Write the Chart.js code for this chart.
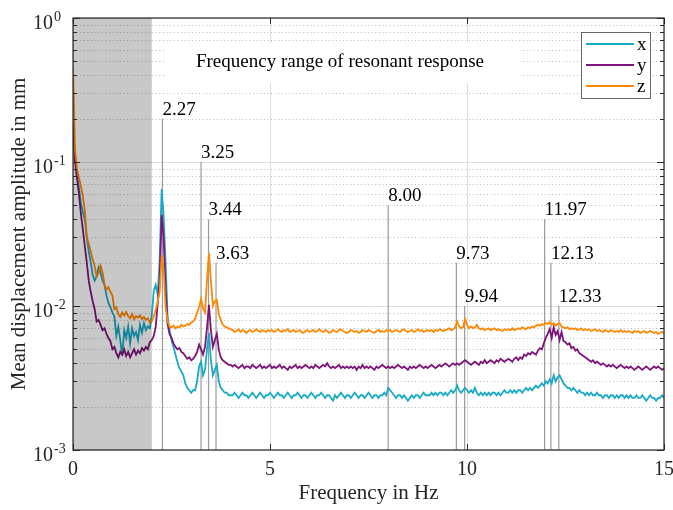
<!DOCTYPE html>
<html>
<head>
<meta charset="utf-8">
<script src="https://cdn.jsdelivr.net/npm/chart.js@4.4.0/dist/chart.umd.min.js"></script>
<style>
  html, body { margin: 0; padding: 0; background: #fff; }
  canvas { display: block; }
</style>
</head>
<body>
<canvas id="chart" width="673" height="510"></canvas>
<script>
// spectra are sampled every 0.05 Hz from 0 to 15 Hz (301 bins)
const freqs = Array.from({ length: 301 }, (_, i) => +(i * 0.05).toFixed(2));

// mean displacement amplitude in mm, one value per bin
const ampX = [
  0.175,0.105,0.078,0.066,0.052,0.045,0.040,0.030,0.024,0.020,0.0165,0.0150,0.0160,0.0185,0.0170,0.0150,0.0140,0.0118,0.0105,0.0098,
  0.0090,0.0085,0.0062,0.0072,0.0058,0.0045,0.0068,0.0060,0.0072,0.0055,0.0070,0.0062,0.0066,0.0058,0.0074,0.0065,0.0076,0.0068,0.0072,0.0070,
  0.0085,0.0128,0.0140,0.0120,0.0210,0.0650,0.0420,0.0200,0.0085,0.0068,0.0058,0.0052,0.0046,0.0041,0.0037,0.0035,0.0033,0.0029,0.0027,0.0026,
  0.0025,0.0026,0.0026,0.0030,0.0038,0.0041,0.0033,0.0036,0.0050,0.0065,0.0042,0.0033,0.0036,0.0039,0.0030,0.0027,0.0026,0.0025,0.0025,0.0024,
  0.0024,
  0.0024,0.0025,0.0024,0.0023,0.0024,0.0025,0.0024,0.0024,0.0023,0.0024,0.0025,0.0024,0.0023,0.0024,0.0025,0.0024,0.0023,0.0024,0.0024,0.0025,
  0.0024,0.0023,0.0024,0.0025,0.0024,0.0024,0.0023,0.0024,0.0025,0.0024,0.0023,0.0024,0.0024,0.0025,0.0024,0.0023,0.0024,0.0024,0.0023,0.0024,
  0.0025,0.0024,0.0023,0.0024,0.0024,0.0025,0.0024,0.0023,0.0024,0.0024,0.0023,0.0022,0.0024,0.0023,0.0024,0.0025,0.0024,0.0023,0.0024,0.0024,
  0.0023,0.0024,0.0025,0.0024,0.0023,0.0024,0.0024,0.0023,0.0024,0.0025,0.0024,0.0023,0.0024,0.0024,0.0023,0.0024,0.0024,0.0025,0.0024,0.0027,
  0.0026,0.0025,0.0024,0.0023,0.0024,0.0024,0.0023,0.0024,0.0023,0.0022,0.0023,0.0024,0.0023,0.0024,0.0024,0.0023,0.0024,0.0025,0.0024,0.0024,
  0.0024,0.0025,0.0024,0.0025,0.0024,0.0025,0.0025,0.0024,0.0025,0.0024,0.0025,0.0026,0.0025,0.0026,0.0028,0.0026,0.0025,0.0026,0.0027,0.0026,
  0.0025,0.0026,0.0025,0.0027,0.0025,0.0024,0.0025,0.0024,0.0025,0.0024,0.0025,0.0024,0.0025,0.0025,0.0024,0.0025,0.0024,0.0025,0.0026,0.0025,
  0.0025,0.0026,0.0025,0.0026,0.0025,0.0026,0.0026,0.0025,0.0026,0.0027,0.0026,0.0027,0.0026,0.0027,0.0028,0.0027,0.0028,0.0029,0.0028,0.0030,
  0.0029,0.0031,0.0029,0.0033,0.0030,0.0032,0.0033,0.0031,0.0029,0.0028,0.0027,0.0027,0.0026,0.0027,0.0026,0.0025,0.0026,0.0025,0.0025,0.0024,
  0.0025,0.0024,0.0025,0.0024,0.0024,0.0025,0.0024,0.0024,0.0023,0.0024,0.0024,0.0023,0.0024,0.0024,0.0023,0.0024,0.0023,0.0024,0.0024,0.0023,
  0.0024,0.0023,0.0024,0.0023,0.0023,0.0024,0.0023,0.0023,0.0024,0.0023,0.0022,0.0023,0.0024,0.0023,0.0023,0.0022,0.0023,0.0023,0.0024,0.0023
];
const ampY = [
  0.19,0.10,0.079,0.060,0.044,0.034,0.026,0.020,0.015,0.0125,0.0108,0.0095,0.0078,0.0080,0.0074,0.0068,0.0070,0.0064,0.0060,0.0057,
  0.0050,0.0052,0.0047,0.0044,0.0048,0.0046,0.0050,0.0045,0.0048,0.0044,0.0047,0.0050,0.0046,0.0049,0.0047,0.0051,0.0049,0.0052,0.0050,0.0056,
  0.0058,0.0062,0.0072,0.0105,0.0150,0.0430,0.0300,0.0130,0.0075,0.0064,0.0060,0.0055,0.0052,0.0050,0.0051,0.0048,0.0047,0.0045,0.0043,0.0044,
  0.0042,0.0043,0.0045,0.0048,0.0054,0.0050,0.0046,0.0052,0.0070,0.0102,0.0068,0.0052,0.0058,0.0064,0.0050,0.0044,0.0042,0.0041,0.0040,0.0039,
  0.0039,
  0.0038,0.0039,0.0038,0.0037,0.0038,0.0039,0.0037,0.0038,0.0038,0.0037,0.0039,0.0038,0.0037,0.0038,0.0039,0.0037,0.0038,0.0037,0.0038,0.0039,
  0.0037,0.0038,0.0037,0.0038,0.0039,0.0037,0.0038,0.0037,0.0036,0.0038,0.0037,0.0038,0.0039,0.0037,0.0038,0.0037,0.0038,0.0039,0.0038,0.0037,
  0.0038,0.0037,0.0039,0.0038,0.0037,0.0038,0.0039,0.0038,0.0040,0.0038,0.0037,0.0038,0.0037,0.0038,0.0039,0.0037,0.0038,0.0037,0.0038,0.0037,
  0.0038,0.0037,0.0038,0.0036,0.0038,0.0037,0.0039,0.0037,0.0038,0.0037,0.0038,0.0037,0.0036,0.0038,0.0037,0.0038,0.0039,0.0038,0.0037,0.0038,
  0.0037,0.0038,0.0037,0.0038,0.0039,0.0038,0.0037,0.0038,0.0037,0.0036,0.0038,0.0037,0.0038,0.0037,0.0038,0.0039,0.0038,0.0037,0.0038,0.0037,
  0.0038,0.0039,0.0038,0.0037,0.0038,0.0039,0.0038,0.0039,0.0040,0.0039,0.0038,0.0039,0.0040,0.0039,0.0040,0.0039,0.0040,0.0041,0.0042,0.0041,
  0.0040,0.0039,0.0040,0.0041,0.0040,0.0039,0.0041,0.0040,0.0042,0.0040,0.0041,0.0042,0.0041,0.0040,0.0042,0.0041,0.0043,0.0042,0.0041,0.0042,
  0.0043,0.0042,0.0041,0.0043,0.0044,0.0042,0.0044,0.0043,0.0046,0.0045,0.0047,0.0046,0.0048,0.0047,0.0046,0.0049,0.0051,0.0050,0.0055,0.0060,
  0.0064,0.0069,0.0060,0.0071,0.0063,0.0067,0.0058,0.0066,0.0057,0.0056,0.0054,0.0055,0.0051,0.0052,0.0049,0.0050,0.0047,0.0046,0.0045,0.0044,
  0.0043,0.0042,0.0041,0.0042,0.0040,0.0041,0.0040,0.0039,0.0040,0.0039,0.0038,0.0039,0.0038,0.0039,0.0038,0.0037,0.0038,0.0039,0.0038,0.0037,
  0.0038,0.0037,0.0038,0.0037,0.0036,0.0037,0.0038,0.0037,0.0036,0.0037,0.0038,0.0037,0.0036,0.0037,0.0038,0.0037,0.0038,0.0037,0.0036,0.0037
];
const ampZ = [
  0.45,0.12,0.090,0.078,0.068,0.058,0.046,0.030,0.027,0.024,0.021,0.019,0.016,0.017,0.019,0.017,0.014,0.013,0.0135,0.0125,
  0.0118,0.0095,0.0098,0.0088,0.0084,0.0090,0.0086,0.0091,0.0085,0.0082,0.0088,0.0081,0.0085,0.0083,0.0086,0.0081,0.0084,0.0080,0.0082,0.0077,
  0.0078,0.0085,0.0094,0.0108,0.0125,0.0226,0.0180,0.0098,0.0079,0.0072,0.0071,0.0073,0.0070,0.0072,0.0071,0.0074,0.0072,0.0073,0.0075,0.0074,
  0.0077,0.0078,0.0082,0.0090,0.0098,0.0112,0.0096,0.0090,0.0150,0.0233,0.0150,0.0100,0.0108,0.0110,0.0088,0.0080,0.0074,0.0072,0.0071,0.0070,
  0.0069,
  0.0068,0.0066,0.0067,0.0069,0.0066,0.0068,0.0067,0.0065,0.0067,0.0068,0.0066,0.0067,0.0069,0.0067,0.0066,0.0068,0.0067,0.0066,0.0068,0.0067,
  0.0068,0.0066,0.0067,0.0069,0.0067,0.0066,0.0068,0.0067,0.0069,0.0066,0.0067,0.0068,0.0066,0.0067,0.0068,0.0066,0.0065,0.0067,0.0068,0.0066,
  0.0067,0.0068,0.0066,0.0067,0.0069,0.0067,0.0066,0.0068,0.0067,0.0065,0.0066,0.0068,0.0067,0.0066,0.0068,0.0069,0.0067,0.0066,0.0065,0.0066,
  0.0068,0.0067,0.0066,0.0067,0.0065,0.0066,0.0068,0.0067,0.0066,0.0068,0.0067,0.0066,0.0065,0.0067,0.0068,0.0066,0.0067,0.0066,0.0068,0.0067,
  0.0068,0.0066,0.0067,0.0068,0.0067,0.0066,0.0068,0.0069,0.0067,0.0066,0.0067,0.0068,0.0066,0.0067,0.0069,0.0067,0.0068,0.0066,0.0067,0.0068,
  0.0067,0.0068,0.0066,0.0068,0.0067,0.0069,0.0068,0.0067,0.0068,0.0069,0.0070,0.0068,0.0069,0.0071,0.0078,0.0072,0.0070,0.0071,0.0081,0.0074,
  0.0070,0.0072,0.0070,0.0071,0.0074,0.0070,0.0069,0.0070,0.0068,0.0069,0.0070,0.0068,0.0069,0.0070,0.0068,0.0069,0.0068,0.0067,0.0069,0.0068,
  0.0069,0.0068,0.0070,0.0068,0.0069,0.0070,0.0069,0.0071,0.0070,0.0069,0.0071,0.0070,0.0072,0.0071,0.0073,0.0074,0.0073,0.0075,0.0074,0.0076,
  0.0075,0.0077,0.0074,0.0076,0.0073,0.0075,0.0076,0.0072,0.0071,0.0070,0.0071,0.0069,0.0070,0.0069,0.0070,0.0068,0.0069,0.0070,0.0068,0.0069,
  0.0068,0.0069,0.0067,0.0068,0.0069,0.0067,0.0068,0.0067,0.0066,0.0068,0.0067,0.0066,0.0068,0.0067,0.0066,0.0067,0.0066,0.0068,0.0066,0.0067,
  0.0066,0.0067,0.0066,0.0065,0.0067,0.0066,0.0067,0.0065,0.0066,0.0067,0.0065,0.0066,0.0067,0.0066,0.0065,0.0066,0.0064,0.0065,0.0066,0.0065
];

const seriesNames = ['x', 'y', 'z'];
const seriesColors = ['#17a9c6', '#7d1479', '#ff8800'];

// marked resonance frequencies (Hz) and how high their marker line reaches (mm)
const peakFreqs = [2.27, 3.25, 3.44, 3.63, 8.00, 9.73, 9.94, 11.97, 12.13, 12.33];
const peakTops = [0.2, 0.1, 0.04, 0.02, 0.05, 0.02, 0.01, 0.04, 0.02, 0.01];

const shadedRange = [0, 2];
const shadedLabel = 'Frequency range of resonant response';
const xTicks = [0, 5, 10, 15];
const yExponents = [0, -1, -2, -3];
const xTitle = 'Frequency in Hz';
const yTitle = 'Mean displacement amplitude in mm';

const serif = '"Liberation Serif", "Times New Roman", serif';

const toPoints = values => values.map((v, i) => ({ x: freqs[i], y: v }));

const seriesDatasets = [ampX, ampY, ampZ].map((values, i) => ({
  label: seriesNames[i],
  data: toPoints(values),
  borderColor: seriesColors[i],
  borderWidth: 1.8,
  pointRadius: 0,
  order: 2 - i
}));

const peakDatasets = peakFreqs.map((f, i) => ({
  label: 'peak ' + f.toFixed(2),
  data: [{ x: f, y: 0.001 }, { x: f, y: peakTops[i] }],
  borderColor: 'rgba(120,120,120,0.75)',
  borderWidth: 1.2,
  pointRadius: 0,
  order: 5
}));

const decorations = {
  id: 'decorations',
  beforeDatasetsDraw(chart) {
    const { ctx, chartArea: a, scales: { x, y } } = chart;
    ctx.save();
    // minor grid (dotted)
    ctx.strokeStyle = 'rgba(0,0,0,0.28)';
    ctx.lineWidth = 1;
    ctx.setLineDash([1, 2.6]);
    for (const e of [-3, -2, -1]) {
      for (let k = 2; k <= 9; k++) {
        const py = Math.round(y.getPixelForValue(k * 10 ** e)) + 0.5;
        ctx.beginPath(); ctx.moveTo(a.left, py); ctx.lineTo(a.right, py); ctx.stroke();
      }
    }
    // major grid (solid)
    ctx.setLineDash([]);
    ctx.strokeStyle = '#dedede';
    for (const e of yExponents) {
      const py = Math.round(y.getPixelForValue(10 ** e)) + 0.5;
      ctx.beginPath(); ctx.moveTo(a.left, py); ctx.lineTo(a.right, py); ctx.stroke();
    }
    for (const t of xTicks) {
      const px = Math.round(x.getPixelForValue(t)) + 0.5;
      ctx.beginPath(); ctx.moveTo(px, a.top); ctx.lineTo(px, a.bottom); ctx.stroke();
    }
    ctx.restore();
  },
  afterDatasetsDraw(chart) {
    const { ctx, chartArea: a, scales: { x, y } } = chart;
    ctx.save();

    // shaded low-frequency band (semi transparent, over the curves)
    const s0 = x.getPixelForValue(shadedRange[0]);
    const s1 = x.getPixelForValue(shadedRange[1]);
    ctx.fillStyle = 'rgba(0,0,0,0.215)';
    ctx.fillRect(s0, a.top, s1 - s0, a.bottom - a.top);

    // annotation box
    ctx.fillStyle = '#fff';
    ctx.fillRect(164, 43, 356, 40);
    ctx.fillStyle = '#000';
    ctx.font = '19px ' + serif;
    ctx.textAlign = 'center';
    ctx.textBaseline = 'middle';
    ctx.fillText(shadedLabel, 340, 62);

    // peak labels
    ctx.textAlign = 'left';
    ctx.textBaseline = 'alphabetic';
    ctx.font = '19px ' + serif;
    peakFreqs.forEach((f, i) => {
      const px = x.getPixelForValue(f);
      const py = y.getPixelForValue(peakTops[i]);
      ctx.fillText(f.toFixed(2), px, py - 4);
    });

    // legend
    ctx.fillStyle = '#fff';
    ctx.fillRect(581, 32, 70, 66);
    ctx.strokeStyle = '#666';
    ctx.lineWidth = 1;
    ctx.strokeRect(581.5, 32.5, 69, 66);
    ctx.font = '19px ' + serif;
    ctx.fillStyle = '#000';
    seriesDatasets.forEach((ds, i) => {
      const ly = 44 + i * 21;
      ctx.strokeStyle = ds.borderColor;
      ctx.lineWidth = 2;
      ctx.beginPath(); ctx.moveTo(586, ly); ctx.lineTo(634, ly); ctx.stroke();
      ctx.fillText(ds.label, 637, ly + 6);
    });

    // axes box
    ctx.strokeStyle = '#262626';
    ctx.lineWidth = 1.2;
    ctx.strokeRect(a.left, a.top, a.right - a.left, a.bottom - a.top);

    // ticks pointing inward
    ctx.lineWidth = 1;
    ctx.beginPath();
    for (const e of yExponents) {
      const py = Math.round(y.getPixelForValue(10 ** e)) + 0.5;
      ctx.moveTo(a.left, py); ctx.lineTo(a.left + 7, py);
      ctx.moveTo(a.right, py); ctx.lineTo(a.right - 7, py);
    }
    for (const e of [-3, -2, -1]) {
      for (let k = 2; k <= 9; k++) {
        const py = Math.round(y.getPixelForValue(k * 10 ** e)) + 0.5;
        ctx.moveTo(a.left, py); ctx.lineTo(a.left + 4, py);
        ctx.moveTo(a.right, py); ctx.lineTo(a.right - 4, py);
      }
    }
    for (const t of xTicks) {
      const px = Math.round(x.getPixelForValue(t)) + 0.5;
      ctx.moveTo(px, a.bottom); ctx.lineTo(px, a.bottom - 6);
      ctx.moveTo(px, a.top); ctx.lineTo(px, a.top + 6);
    }
    ctx.stroke();

    // tick labels
    ctx.fillStyle = '#262626';
    ctx.font = '20px ' + serif;
    ctx.textAlign = 'center';
    for (const t of xTicks) {
      ctx.fillText(String(t), x.getPixelForValue(t), a.bottom + 25);
    }
    for (const e of yExponents) {
      const py = y.getPixelForValue(10 ** e);
      ctx.font = '20px ' + serif;
      ctx.textAlign = 'right';
      ctx.fillText('10', a.left - 20, py + 11);
      ctx.font = '14px ' + serif;
      ctx.textAlign = 'left';
      ctx.fillText(String(e), a.left - 19, py + 3);
    }

    // axis titles
    ctx.font = '21px ' + serif;
    ctx.textAlign = 'center';
    ctx.fillText(xTitle, (a.left + a.right) / 2, 499);
    ctx.translate(25, (a.top + a.bottom) / 2);
    ctx.rotate(-Math.PI / 2);
    ctx.fillText(yTitle, 0, 0);

    ctx.restore();
  }
};

new Chart(document.getElementById('chart'), {
  type: 'line',
  data: { datasets: [...seriesDatasets, ...peakDatasets] },
  options: {
    responsive: false,
    animation: false,
    devicePixelRatio: 1,
    layout: { padding: { left: 73, right: 9, top: 18, bottom: 60 } },
    plugins: { legend: { display: false }, tooltip: { enabled: false } },
    elements: { line: { tension: 0 }, point: { radius: 0 } },
    scales: {
      x: { type: 'linear', min: 0, max: 15, display: false },
      y: { type: 'logarithmic', min: 0.001, max: 1, display: false }
    }
  },
  plugins: [decorations]
});
</script>
</body>
</html>
